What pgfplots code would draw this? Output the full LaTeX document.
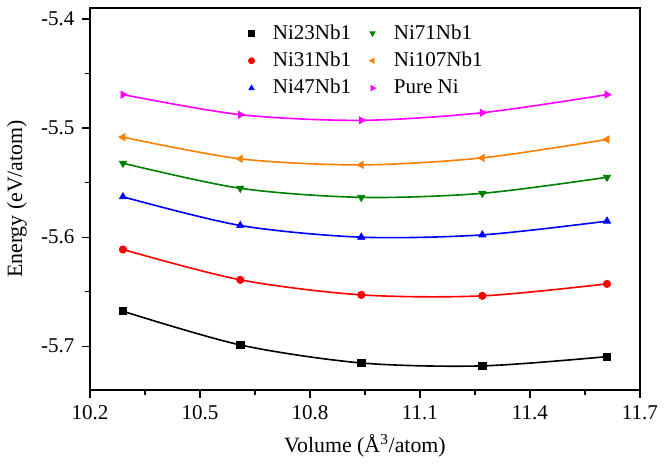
\documentclass[border=0pt]{standalone}
\usepackage{fontspec}
\setmainfont{Liberation Serif}
\usepackage{pgfplots}
\usepackage{pgfplotstable}
\pgfplotsset{compat=1.18}

\definecolor{cOrange}{RGB}{255,128,0}
\definecolor{cGreen}{RGB}{0,128,0}
\definecolor{cMagenta}{RGB}{255,0,255}

% volume (A^3/atom) vs energy (eV/atom)
\pgfplotstableread{
v e
10.29 -5.6679
10.61 -5.6988
10.94 -5.7153
11.27 -5.7180
11.61 -5.7095
}\niA
\pgfplotstableread{
v e
10.29 -5.6113
10.61 -5.6391
10.94 -5.6529
11.27 -5.6538
11.61 -5.6428
}\niB
\pgfplotstableread{
v e
10.29 -5.5630
10.61 -5.5893
10.94 -5.6000
11.27 -5.5979
11.61 -5.5853
}\niC
\pgfplotstableread{
v e
10.29 -5.5322
10.61 -5.5552
10.94 -5.5635
11.27 -5.5598
11.61 -5.5451
}\niD
\pgfplotstableread{
v e
10.29 -5.5083
10.61 -5.5282
10.94 -5.5337
11.27 -5.5273
11.61 -5.5104
}\niE
\pgfplotstableread{
v e
10.29 -5.4693
10.61 -5.4877
10.94 -5.4929
11.27 -5.4859
11.61 -5.4693
}\niF

\begin{document}
\fontsize{13}{15}\selectfont
\begin{tikzpicture}
\begin{axis}[
    scale only axis,
    width=340pt, height=236pt,
    xmin=10.2, xmax=11.7,
    ymin=-5.74, ymax=-5.39,
    xtick={10.2,10.5,...,11.7},
    ytick={-5.7,-5.6,-5.5,-5.4},
    minor x tick num=1,
    minor y tick num=1,
    xtick pos=bottom, ytick pos=left,
    tick align=outside,
    major tick length=5pt, minor tick length=3pt,
    every tick/.style={black, line width=0.8pt},
    axis line style={line width=0.9pt},
    /pgf/number format/assume math mode=true,
    xticklabel style={/pgf/number format/.cd, fixed, precision=1, fixed zerofill},
    yticklabel style={/pgf/number format/.cd, fixed, precision=1, fixed zerofill},
    tick label style={font=\fontsize{13}{15}\selectfont},
    label style={font=\fontsize{13.5}{15}\selectfont},
    xlabel={Volume (Å\textsuperscript{3}/atom)},
    ylabel={Energy (eV/atom)},
    legend columns=2,
    legend style={draw=none, fill=none, at={(0.272,0.975)}, anchor=north west,
        font=\fontsize{13}{15}\selectfont, cells={anchor=west},
        /tikz/every even column/.append style={column sep=7pt},
        row sep=2pt},
    legend image code/.code={\path (-4pt,0pt) (11pt,0pt);
        \draw[#1, mark size=1.9pt] plot coordinates {(0pt,0pt)};},
    mark size=2.6pt,
]
% smooth curves
\addplot[black, line width=1pt, smooth, forget plot] table[x=v,y=e] {\niA};
\addplot[red, line width=1pt, smooth, forget plot] table[x=v,y=e] {\niB};
\addplot[blue, line width=1pt, smooth, forget plot] table[x=v,y=e] {\niC};
\addplot[cGreen, line width=1pt, smooth, forget plot] table[x=v,y=e] {\niD};
\addplot[cOrange, line width=1pt, smooth, forget plot] table[x=v,y=e] {\niE};
\addplot[cMagenta, line width=1pt, smooth, forget plot] table[x=v,y=e] {\niF};
% markers (legend fills rows, so entries alternate between the columns)
\addplot[only marks, black, mark=square*, mark size=2.2pt] table[x=v,y=e] {\niA};
\addlegendentry{Ni23Nb1}
\addplot[only marks, cGreen, mark=triangle*, mark options={rotate=180}] table[x=v,y=e] {\niD};
\addlegendentry{Ni71Nb1}
\addplot[only marks, red, mark=*, mark size=2.3pt] table[x=v,y=e] {\niB};
\addlegendentry{Ni31Nb1}
\addplot[only marks, cOrange, mark=triangle*, mark options={rotate=90}] table[x=v,y=e] {\niE};
\addlegendentry{Ni107Nb1}
\addplot[only marks, blue, mark=triangle*] table[x=v,y=e] {\niC};
\addlegendentry{Ni47Nb1}
\addplot[only marks, cMagenta, mark=triangle*, mark options={rotate=-90}] table[x=v,y=e] {\niF};
\addlegendentry{Pure Ni}
\end{axis}
\path ([yshift=5pt]current axis.north);
\end{tikzpicture}
\end{document}
